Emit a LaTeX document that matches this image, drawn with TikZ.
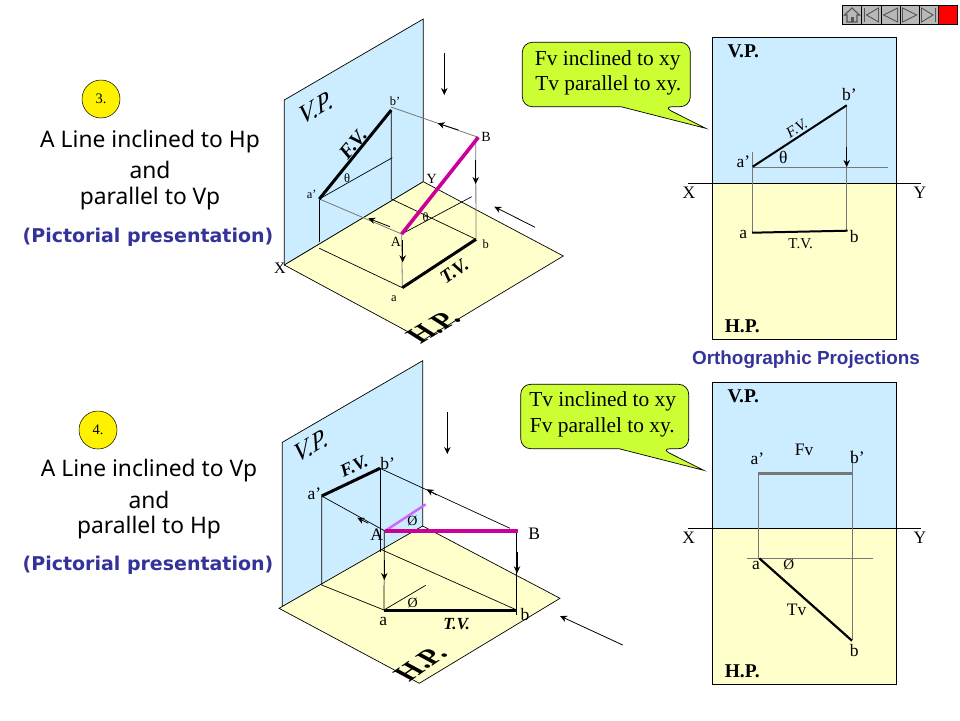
\documentclass[tikz,border=0pt]{standalone}
\usepackage{fontspec}
\setmainfont{Liberation Serif}
\setsansfont{Liberation Sans}
\newfontfamily\headf{Noto Sans}
\newfontfamily\pictf{DejaVu Sans}
\newfontfamily\isoh[FakeSlant=-0.5]{Liberation Serif}
\newfontfamily\isov[FakeSlant=0.5]{Liberation Serif}
\usetikzlibrary{arrows.meta}
\definecolor{vpc}{HTML}{CCECFF}
\definecolor{hpc}{HTML}{FFFFCC}
\definecolor{callc}{HTML}{CCFF33}
\definecolor{bluec}{HTML}{333399}
\definecolor{magc}{HTML}{CC0099}
\definecolor{lilac}{HTML}{CC66FF}
\definecolor{projc}{HTML}{777777}
\definecolor{navc}{HTML}{B8B8B8}
\definecolor{navd}{HTML}{555555}
\tikzset{
  plane/.style={draw=black,line width=0.7pt},
  proj/.style={draw=projc,line width=0.8pt},
  blk/.style={draw=black,line width=0.7pt},
  thick3/.style={draw=black,line width=3pt},
  mag/.style={draw=magc,line width=3.6pt},
  arr/.style={draw=black,line width=0.8pt,-{Stealth[length=7pt,width=6.5pt]}},
  lab/.style={inner sep=0pt,font=\fontsize{14}{14}\selectfont},
  labs/.style={inner sep=0pt,font=\fontsize{12.5}{12.5}\selectfont},
  labl/.style={inner sep=0pt,font=\fontsize{17.5}{17.5}\selectfont},
  bold/.style={inner sep=0pt,font=\fontsize{19.5}{19.5}\selectfont\bfseries},
  heading/.style={inner sep=0pt,font=\headf\fontsize{22.8}{22.8}\selectfont},
  pict/.style={inner sep=0pt,text=bluec,font=\pictf\bfseries\fontsize{19}{19}\selectfont},
  say/.style={inner sep=0pt,font=\fontsize{21.4}{21.4}\selectfont},
  badge/.style={circle,draw=black,line width=0.5pt,fill=yellow,minimum size=38pt,inner sep=0pt,font=\fontsize{14.5}{14.5}\selectfont},
  navbtn/.style={draw=black,line width=0.6pt,fill=navc},
  navicon/.style={draw=navd,line width=0.9pt,fill=navc},
  hplab/.style={inner sep=0pt,rotate=31,font=\isoh\bfseries\fontsize{27}{27}\selectfont},
  vplab/.style={inner sep=0pt,rotate=31,font=\isov\fontsize{25}{25}\selectfont},
}
\begin{document}
\begin{tikzpicture}[x=1pt,y=-1pt]
\useasboundingbox (0,0) rectangle (960,720);
% ---------- navigation buttons
\foreach \a/\b in {842.3/861.7,861.7/881,881/900,900/919.3,919.3/938.3}
  \draw[navbtn] (\a,5.5) rectangle (\b,24);
\fill[red] (938.3,5.5) rectangle (957.7,24);
\draw[black,line width=0.6pt] (938.3,5.5) rectangle (957.7,24);
\draw[navicon,line width=1.1pt] (844.5,15) -- (852,8) -- (859.5,15) -- (857,15) -- (857,22) -- (847,22) -- (847,15) -- cycle;
\fill[navd] (850.5,17) rectangle (853.5,22);
\draw[navd,line width=1.6pt] (864.5,8) -- (864.5,22);
\draw[navicon] (878.5,8) -- (866.5,15) -- (878.5,22) -- cycle;
\draw[navicon] (897.5,8) -- (883.5,15) -- (897.5,22) -- cycle;
\draw[navicon] (902.5,8) -- (916.5,15) -- (902.5,22) -- cycle;
\draw[navicon] (921.5,8) -- (933,15) -- (921.5,22) -- cycle;
\draw[navd,line width=1.6pt] (935.5,8) -- (935.5,22);
% ---------- left texts
\node[badge] (n3) at (101,99) {3.};
\node[heading] (h31) at (150,142) {A Line inclined to Hp};
\node[heading] (h32) at (150,170) {and};
\node[heading] (h33) at (150,199) {parallel to Vp};
\node[pict] (p3) at (148,237) {(Pictorial presentation)};
\node[badge] (n4) at (98,430) {4.};
\node[heading] (h41) at (149,471) {A Line inclined to Vp};
\node[heading] (h42) at (149,500) {and};
\node[heading] (h43) at (149,528) {parallel to Hp};
\node[pict] (p4) at (148,565) {(Pictorial presentation)};
% ---------- pictorial 3
\coordinate (X3) at (284.3,265); \coordinate (Y3) at (423.3,181.7);
\coordinate (bp3) at (391.3,110); \coordinate (ap3) at (319.3,199);
\coordinate (B3) at (478.3,137.3); \coordinate (A3) at (401.7,234);
\coordinate (a3) at (402.3,287.7); \coordinate (b3) at (476,239.3);
\coordinate (fb3) at (391.3,199); \coordinate (fa3) at (319.3,241.7);
\coordinate (ga3) at (319.3,248.3);
\filldraw[plane,fill=vpc] (284.3,100) -- (423.3,19) -- (Y3) -- (X3) -- cycle;
\filldraw[plane,fill=hpc] (X3) -- (Y3) -- (563.3,256) -- (423.3,340) -- cycle;
\draw[blk] (bp3) -- (fb3) -- (b3);
\draw[blk] (ap3) -- (fa3);
\draw[blk] (ga3) -- (a3);
\draw[blk] (ap3) -- (392.3,157.7);
\draw[blk] (A3) -- (471.7,196.7);
\draw[proj] (391,107) -- (B3);
\draw[proj] (ap3) -- (A3);
\draw[proj] (A3) -- (a3);
\draw[proj] (475.7,137.3) -- (b3);
\draw[thick3] (ap3) -- (bp3);
\draw[thick3] (a3) -- (b3);
\draw[mag] (A3) -- (B3);
\draw[arr] (444.3,53.3) -- (444.3,95);
\draw[arr] (535,227.3) -- (494.3,206.7);
\draw[arr] (458.3,130) -- (437.7,123.3);
\draw[arr] (390,226.7) -- (368.3,218.3);
\draw[arr] (475.7,160) -- (475.7,184);
\draw[arr] (402.7,240) -- (402.7,262.3);
\node[vplab] (vp3) at (313,110) {V.P.};
\node[inner sep=0pt,rotate=50,font=\itshape\bfseries\fontsize{20}{20}\selectfont] (fv3) at (353,144) {F.V.};
\node[inner sep=0pt,rotate=35,font=\itshape\bfseries\fontsize{19}{19}\selectfont] (tv3) at (454.3,271) {T.V.};
\node[hplab] (hp3) at (437,325) {H.P.};
\node[labs] at (347,178.3) {θ};
\node[labs] at (311.7,194.3) {a’};
\node[labs] at (395,101.7) {b’};
\node[lab] at (431.7,179.3) {Y};
\node[lab] at (486,136.7) {B};
\node[labs] at (425.7,216.7) {θ};
\node[lab] at (396,241.7) {A};
\node[labs] at (485.7,244.3) {b};
\node[labs] at (394,298.3) {a};
\node[lab,font=\fontsize{16}{16}\selectfont] at (280,268.3) {X};
% ---------- pictorial 4
\coordinate (X4) at (279,608.3); \coordinate (Y4) at (422.7,526);
\coordinate (bp4) at (380,468.3); \coordinate (ap4) at (321.7,496);
\coordinate (B4) at (518.3,531); \coordinate (A4) at (385,531);
\coordinate (a4) at (384,610); \coordinate (b4) at (516.7,610);
\coordinate (fb4) at (380,551.7); \coordinate (fa4) at (321.7,585);
\filldraw[plane,fill=vpc] (282.3,442.3) -- (422.7,360.7) -- (422.7,526.7) -- (282.3,606.7) -- cycle;
\filldraw[plane,fill=hpc] (X4) -- (Y4) -- (560,598.3) -- (419.3,683.3) -- cycle;
\draw[blk] (bp4) -- (fb4);
\draw[blk] (380,549) -- (b4);
\draw[blk] (ap4) -- (fa4) -- (a4);
\draw[blk] (bp4) -- (510,528.3);
\draw[blk] (ap4) -- (A4);
\draw[blk] (384.3,531) -- (a4);
\draw[blk] (516.7,531) -- (516.7,615);
\draw[blk] (a4) -- (425.7,585.3);
\draw[draw=lilac,line width=2.4pt] (A4) -- (425.7,504.3);
\draw[thick3] (ap4) -- (bp4);
\draw[thick3] (a4) -- (b4);
\draw[mag] (A4) -- (B4);
\draw[arr] (447.3,412.3) -- (447.3,454);
\draw[arr] (622.7,645) -- (560,616);
\draw[arr] (436.7,495) -- (426.7,489.3);
\draw[arr] (368.3,523.3) -- (357.3,517.7);
\draw[arr] (384.3,560) -- (384.3,580);
\draw[arr,line width=1.3pt] (517,551.7) -- (517,573.3);
\node[vplab] (vp4) at (308,448) {V.P.};
\node[inner sep=0pt,rotate=25,font=\itshape\bfseries\fontsize{18}{18}\selectfont] (fv4) at (354,466.7) {F.V.};
\node[inner sep=0pt,font=\itshape\bfseries\fontsize{17}{17}\selectfont] (tv4) at (456.7,624.3) {T.V.};
\node[hplab,rotate=4] (hp4) at (424,661) {H.P.};
\node[labl] at (387.7,463.3) {b’};
\node[labl] at (314.3,494) {a’};
\node[lab] at (412.3,520.7) {Ø};
\node[labl] at (376.7,535) {A};
\node[labl] at (534.3,533.3) {B};
\node[lab] at (412.7,603.3) {Ø};
\node[labl] at (383.3,621.7) {a};
\node[labl] at (525,614.3) {b};
% ---------- orthographic 3
\fill[vpc] (712.3,37.3) rectangle (896.7,183.3);
\fill[hpc] (712.3,183.3) rectangle (896.7,339.3);
\draw[plane] (712.3,37.3) rectangle (896.7,339.3);
\coordinate (oa3) at (752.7,166.7); \coordinate (ob3) at (846.7,105.3);
\coordinate (oc3) at (752,232.7); \coordinate (od3) at (847.7,230.7);
\draw[plane] (687.7,183.3) -- (920.7,183.3);
\draw[proj] (752.7,167.3) -- (888.3,167.3);
\draw[proj] (752.7,151.7) -- (752.7,232.7);
\draw[proj] (ob3) -- (846.7,230.7);
\draw[thick3,line width=2pt] (oa3) -- (ob3);
\draw[thick3,line width=2pt] (oc3) -- (od3);
\draw[arr] (846.7,146.7) -- (846.7,167);
\node[bold] at (743.3,51.7) {V.P.};
\node[bold] at (742.3,326) {H.P.};
\node[labl] at (849.3,94.3) {b’};
\node[labl] at (743.3,161.7) {a’};
\node[lab,rotate=33,font=\itshape\fontsize{15}{15}\selectfont] at (796.7,128) {F.V.};
\node[labl] at (783.3,157.7) {θ};
\node[labl] at (689,192.7) {X};
\node[labl] at (920,192.7) {Y};
\node[labl] at (743.3,234) {a};
\node[labl] at (854.3,236.7) {b};
\node[lab,font=\fontsize{15}{15}\selectfont] at (800.7,244) {T.V.};
% ---------- orthographic 4
\fill[vpc] (712.3,382.3) rectangle (896.7,528.3);
\fill[hpc] (712.3,528.3) rectangle (896.7,684.3);
\draw[plane] (712.3,382.3) rectangle (896.7,684.3);
\coordinate (oa4) at (757.7,473.3); \coordinate (ob4) at (853.3,473.3);
\coordinate (oc4) at (759.3,558.3); \coordinate (od4) at (852,640.7);
\draw[plane] (687.7,528.3) -- (920.7,528.3);
\draw[proj] (746.7,558.3) -- (872.7,558.3);
\draw[proj] (758.3,473.3) -- (758.3,558.3);
\draw[proj] (852.7,450) -- (852.7,640);
\draw[draw=projc,line width=3pt] (oa4) -- (ob4);
\draw[thick3,line width=2.2pt] (oc4) -- (od4);
\node[bold] at (743.3,396.7) {V.P.};
\node[bold] at (742.3,671) {H.P.};
\node[labl] at (757.3,458.3) {a’};
\node[labl] at (804,450) {Fv};
\node[labl] at (857.3,457.7) {b’};
\node[labl] at (688.7,537.7) {X};
\node[labl] at (920,537.7) {Y};
\node[labl] at (756,565) {a};
\node[lab,font=\fontsize{15}{15}\selectfont] at (788.7,565) {Ø};
\node[labl] at (796.7,610) {Tv};
\node[labl] at (854.3,650.7) {b};
\node[inner sep=0pt,text=bluec,font=\sffamily\bfseries\fontsize{18.9}{18.9}\selectfont] (ortho) at (806,360) {Orthographic Projections};
% ---------- callouts
\filldraw[plane,fill=callc] (621,106.7) [rounded corners=10pt] -- (522.3,106.7) -- (522.3,42.3) -- (690.3,42.3) -- (690.3,106.7) -- (662.7,106.7) [sharp corners] -- (705.7,128.3) -- cycle;
\node[say] (c31) at (607.7,60.3) {Fv inclined to xy};
\node[say] (c32) at (608.3,85.3) {Tv parallel to xy.};
\filldraw[plane,fill=callc] (619,448.7) [rounded corners=10pt] -- (520.7,448.7) -- (520.7,384.3) -- (688.7,384.3) -- (688.7,448.7) -- (660.7,448.7) [sharp corners] -- (703.7,470.3) -- cycle;
\node[say] (c41) at (602.7,401.7) {Tv inclined to xy};
\node[say] (c42) at (602.3,427) {Fv parallel to xy.};
\end{tikzpicture}
\end{document}
